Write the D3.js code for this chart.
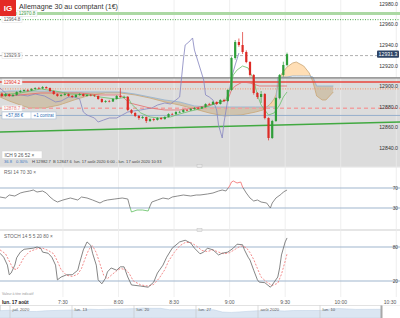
<!DOCTYPE html>
<html>
<head>
<meta charset="utf-8">
<title>Allemagne 30 au comptant</title>
<script src="https://cdn.jsdelivr.net/npm/d3@7/dist/d3.min.js"></script>
<style>
  body { margin: 0; background: #fff; }
  svg { display: block; font-family: "Liberation Sans", Arial, sans-serif; }
</style>
</head>
<body>
<div id="chart"></div>
<script>
/**
 * DATA
 * */
const candleStart = "6:56", candleStep = 2; // minutes per candle
// [open, high, low, close]
const candles = [
  [12893.0,12894.0,12889.5,12890.7],[12890.7,12893.5,12890.0,12892.6],[12892.6,12893.0,12889.8,12890.7],
  [12890.7,12892.5,12889.9,12891.7],[12891.7,12895.2,12891.0,12894.6],[12894.6,12896.5,12893.8,12895.5],
  [12895.5,12897.2,12894.9,12896.5],[12896.5,12897.4,12895.0,12896.0],[12896.0,12898.3,12895.6,12897.5],
  [12897.5,12899.2,12896.8,12898.4],[12898.4,12899.5,12897.2,12898.0],[12898.0,12900.3,12897.5,12899.4],
  [12899.4,12900.0,12897.6,12898.4],[12898.4,12898.9,12894.8,12895.5],[12895.5,12896.0,12891.8,12892.6],
  [12892.6,12893.2,12889.9,12890.7],[12890.7,12892.6,12890.1,12891.7],[12891.7,12893.8,12891.0,12892.6],
  [12892.6,12893.1,12890.0,12890.7],[12890.7,12891.5,12888.9,12889.7],[12889.7,12892.4,12889.2,12891.7],
  [12891.7,12893.5,12891.0,12892.6],[12892.6,12893.0,12890.0,12890.7],[12890.7,12892.5,12890.2,12891.7],
  [12891.7,12892.6,12890.4,12891.2],[12891.2,12892.0,12889.8,12890.7],[12890.7,12891.2,12887.0,12887.8],
  [12887.8,12888.3,12884.0,12884.9],[12884.9,12886.6,12884.1,12885.8],[12885.8,12886.9,12884.5,12885.3],
  [12885.3,12888.5,12884.9,12887.8],[12887.8,12891.5,12887.2,12890.7],[12890.7,12898.5,12889.0,12889.7],
  [12889.7,12891.0,12888.6,12889.9],[12889.9,12890.5,12876.0,12877.1],[12877.1,12878.0,12873.0,12874.2],
  [12874.2,12875.0,12870.2,12871.3],[12871.3,12872.2,12867.5,12869.3],[12869.3,12871.4,12868.5,12870.3],
  [12870.3,12870.8,12864.5,12866.4],[12866.4,12869.0,12865.5,12868.3],[12868.3,12869.2,12866.2,12867.4],
  [12867.4,12870.0,12866.8,12869.3],[12869.3,12870.2,12867.5,12868.3],[12868.3,12871.0,12867.6,12870.3],
  [12870.3,12873.9,12869.8,12873.2],[12873.2,12874.3,12872.0,12873.0],[12873.0,12875.9,12872.4,12875.1],
  [12875.1,12876.2,12874.1,12875.2],[12875.2,12877.8,12874.5,12877.1],[12877.1,12878.2,12876.0,12876.8],
  [12876.8,12878.9,12876.2,12878.1],[12878.1,12879.8,12877.4,12879.0],[12879.0,12880.0,12877.8,12878.6],
  [12878.6,12880.8,12878.0,12880.0],[12880.0,12883.6,12879.4,12882.9],[12882.9,12884.0,12881.6,12882.5],
  [12882.5,12885.8,12882.0,12884.9],[12884.9,12885.4,12882.0,12882.9],[12882.9,12887.6,12882.4,12886.8],
  [12886.8,12888.0,12884.8,12885.8],[12885.8,12897.3,12885.2,12896.5],[12896.5,12929.0,12895.8,12927.6],
  [12927.6,12945.0,12926.0,12943.1],[12943.1,12946.5,12938.5,12940.2],[12940.2,12952.8,12931.5,12933.4],
  [12933.4,12935.0,12922.5,12923.7],[12923.7,12924.5,12909.5,12911.1],[12911.1,12912.0,12892.0,12893.6],
  [12893.6,12894.5,12887.8,12889.7],[12889.7,12895.5,12884.0,12892.6],[12892.6,12893.5,12868.0,12869.3],
  [12869.3,12870.0,12847.6,12849.9],[12849.9,12867.5,12849.0,12866.4],[12866.4,12889.5,12865.5,12888.7],
  [12888.7,12912.0,12887.5,12911.1],[12911.1,12924.0,12909.5,12920.8],[12920.8,12932.8,12919.5,12931.3]
];

// Ichimoku cloud (spans already shifted forward 26)
const cloudTimes = ["6:56","7:01","7:07","7:12","7:20","7:28","7:36","7:45","7:53","8:01","8:09","8:17",
  "8:25","8:33","8:41","8:49","8:57","9:06","9:14","9:18","9:22","9:24","9:25","9:26","9:28","9:31",
  "9:34","9:36","9:40","9:43","9:45","9:47","9:50","9:52","9:56"];
const spanA = [12889.7,12885.8,12881.9,12879.0,12879.0,12881.9,12886.8,12891.7,12893.6,12893.6,12891.7,12888.7,
  12884.9,12881.9,12878.1,12874.2,12871.3,12872.2,12875.1,12877.1,12882.9,12887.8,12891.7,12900.4,12912.0,12918.8,
  12922.7,12923.7,12919.8,12913.0,12904.3,12890.7,12886.8,12886.8,12894.6];
const spanB = [12894.6,12895.5,12895.5,12895.5,12895.5,12894.6,12894.6,12894.6,12894.6,12894.6,12892.6,12889.7,
  12886.8,12884.9,12881.0,12880.0,12880.0,12880.0,12880.0,12880.0,12880.0,12880.0,12880.0,12909.1,12909.1,12909.1,
  12910.1,12910.1,12910.1,12910.1,12909.1,12900.4,12900.4,12900.4,12900.4];

const tenkan = [["6:56",12891.7],["7:07",12893.6],["7:18",12897.5],["7:26",12895.5],["7:34",12892.6],["7:45",12891.7],
  ["7:50",12889.7],["7:58",12887.8],["8:05",12889.7],["8:07",12882.9],["8:12",12874.2],["8:17",12870.3],["8:22",12869.3],
  ["8:28",12870.3],["8:33",12873.2],["8:39",12876.1],["8:44",12878.1],["8:49",12881.0],["8:55",12884.9],["8:58",12886.8],
  ["9:00",12896.5],["9:02",12911.1],["9:04",12915.9],["9:07",12919.8],["9:10",12917.9],["9:13",12906.2],["9:15",12891.7],
  ["9:17",12881.9],["9:21",12872.2],["9:24",12874.2],["9:27",12881.9],["9:29",12889.7],["9:31",12894.6]];
const kijun = [["6:56",12890.7],["7:07",12891.7],["7:18",12893.6],["7:39",12893.6],["7:50",12891.7],["8:01",12891.7],
  ["8:06",12883.9],["8:17",12879.0],["8:25",12877.1],["8:33",12877.1],["8:41",12879.0],["8:49",12881.9],["8:55",12884.9],
  ["8:59",12886.8],["9:01",12896.5],["9:03",12900.4],["9:07",12904.3],["9:11",12903.3],["9:16",12900.4],["9:22",12900.4],
  ["9:31",12900.4]];
const chikou = [["6:56",12898.4],["6:59",12893.6],["7:02",12890.7],["7:07",12891.7],["7:11",12890.7],["7:15",12892.6],
  ["7:20",12890.7],["7:23",12887.8],["7:26",12884.9],["7:29",12885.8],["7:33",12889.7],["7:36",12889.7],["7:39",12887.8],
  ["7:41",12875.1],["7:43",12872.2],["7:47",12869.3],["7:49",12865.4],["7:52",12867.4],["7:55",12869.3],["7:59",12869.3],
  ["8:02",12872.2],["8:05",12875.1],["8:08",12876.1],["8:12",12877.1],["8:15",12878.1],["8:18",12879.0],["8:21",12881.9],
  ["8:25",12883.9],["8:28",12882.9],["8:31",12886.8],["8:33",12889.7],["8:35",12925.6],["8:36",12940.2],["8:38",12943.1],
  ["8:40",12947.0],["8:41",12935.3],["8:43",12923.7],["8:46",12906.2],["8:47",12891.7],["8:49",12889.7],["8:51",12886.8],
  ["8:53",12877.1],["8:54",12862.5],["8:56",12849.9],["8:57",12865.4],["8:59",12886.8],["9:01",12908.2],["9:03",12920.8],
  ["9:05",12932.4]];

const rsi = [["6:56",52],["6:59",50],["7:01",56],["7:04",54],["7:07",60],["7:09",62],["7:12",64],["7:14",66],["7:16",62],
  ["7:19",64],["7:21",60],["7:23",52],["7:25",46],["7:27",42],["7:30",46],["7:34",50],["7:38",46],["7:40",52],["7:43",50],
  ["7:46",46],["7:50",40],["7:52",44],["7:54",46],["7:58",48],["8:02",50],["8:05",48],["8:06",34],["8:07",22],["8:10",26],
  ["8:13",26],["8:16",24],["8:17",34],["8:18",42],["8:21",46],["8:24",50],["8:27",48],["8:29",52],["8:32",54],["8:35",56],
  ["8:39",54],["8:42",56],["8:44",56],["8:48",58],["8:51",60],["8:54",64],["8:56",66],["8:58",64],["9:00",74],["9:01",82],
  ["9:02",84],["9:04",80],["9:06",82],["9:07",72],["9:09",60],["9:11",50],["9:13",44],["9:15",46],["9:17",42],["9:20",40],
  ["9:22",30],["9:23",40],["9:25",50],["9:28",58],["9:29",62],["9:31",66]];

const stochK = [["6:56",69],["6:58",62],["7:00",48],["7:01",31],["7:02",34],["7:04",48],["7:05",61],["7:07",71],["7:09",76],
  ["7:14",78],["7:16",80],["7:18",78],["7:19",71],["7:22",69],["7:24",62],["7:26",48],["7:27",22],["7:29",27],["7:32",31],
  ["7:35",31],["7:38",39],["7:39",52],["7:41",75],["7:43",89],["7:45",83],["7:46",69],["7:48",48],["7:49",22],["7:51",15],
  ["7:53",25],["7:54",36],["7:56",43],["7:59",39],["8:01",45],["8:03",45],["8:05",27],["8:07",13],["8:12",11],["8:16",9],
  ["8:19",18],["8:21",34],["8:24",48],["8:26",62],["8:29",78],["8:33",89],["8:36",92],["8:39",87],["8:41",78],["8:44",68],
  ["8:46",71],["8:48",78],["8:51",75],["8:54",66],["8:56",69],["8:59",71],["9:02",78],["9:04",85],["9:07",84],["9:08",75],
  ["9:10",62],["9:11",57],["9:13",39],["9:15",22],["9:16",18],["9:19",17],["9:22",9],["9:23",13],["9:26",27],["9:27",43],
  ["9:28",66],["9:30",89],["9:31",96]];
const stochD = [["6:56",75],["6:59",68],["7:01",55],["7:03",42],["7:05",40],["7:07",50],["7:09",62],["7:12",72],["7:16",77],
  ["7:19",78],["7:22",74],["7:25",68],["7:27",55],["7:29",40],["7:32",30],["7:35",28],["7:38",32],["7:40",42],["7:42",60],
  ["7:44",76],["7:46",82],["7:48",70],["7:50",50],["7:52",30],["7:54",24],["7:56",30],["7:59",38],["8:01",42],["8:04",40],
  ["8:06",32],["8:08",20],["8:12",13],["8:16",11],["8:19",14],["8:22",25],["8:25",40],["8:27",55],["8:30",70],["8:33",82],
  ["8:36",88],["8:39",88],["8:42",82],["8:45",74],["8:48",72],["8:51",75],["8:54",71],["8:57",68],["9:00",70],["9:03",76],
  ["9:06",82],["9:09",79],["9:11",70],["9:13",58],["9:15",42],["9:17",27],["9:20",18],["9:23",12],["9:26",16],["9:28",32],
  ["9:30",55],["9:31",68]];

const priceTicks = [12840, 12860, 12880, 12900, 12920, 12940, 12960, 12980];
const timeTicks = ["7:30", "8:00", "8:30", "9:00", "9:30", "10:00", "10:30"];
const rsiLevels = [30, 70];
const stochLevels = [20, 80];

// horizontal levels drawn on the price panel
const levelKeys = ["band", "dotGreen", "alert", "zoneTop", "stop", "order", "limit", "position"];
const levelValues = [12970.8, 12964.8, 12929.9, 12908.2, 12904.2, 12897.5, 12878.7, 12871.8];
const lastPrice = 12931.3;
const trendTimes = ["6:56", "10:32"], trendValues = [12855.7, 12865.4];

// navigator (daily)
const navDates = ["2020-07-02","2020-07-03","2020-07-06","2020-07-07","2020-07-08","2020-07-09","2020-07-10",
  "2020-07-13","2020-07-14","2020-07-15","2020-07-16","2020-07-17","2020-07-20","2020-07-21","2020-07-22","2020-07-23",
  "2020-07-24","2020-07-27","2020-07-28","2020-07-29","2020-07-30","2020-07-31","2020-08-03","2020-08-04","2020-08-05",
  "2020-08-06","2020-08-07","2020-08-10","2020-08-11","2020-08-12","2020-08-13","2020-08-14","2020-08-17"];
const navValues = [12608,12528,12733,12617,12495,12489,12633,12800,12697,12931,12875,12920,13047,13171,13105,13104,
  12838,12839,12836,12823,12379,12313,12647,12601,12661,12592,12675,12688,12947,13059,12994,12901,12920];
const navTicks = ["2020-07-06","2020-07-13","2020-07-20","2020-07-27","2020-08-03","2020-08-10"];
const navLabels = ["juil. 2020","lun. 13","lun. 20","lun. 27","août 2020","lun. 10"];

/**
 * SCALES
 * */
const W = 400, H = 318;
const t = d3.timeParse("%H:%M");
const day = d3.timeParse("%Y-%m-%d");
const x = d3.scaleTime().domain([t("6:56"), t("10:32")]).range([0, W]);
const y = d3.scaleLinear().domain([12822.7, 12983.9]).range([166, 0]);
const yRsi = d3.scaleLinear().domain([0, 100]).range([223, 173]);
const ySto = d3.scaleLinear().domain([0, 100]).range([292.3, 235.7]);
const xNav = d3.scaleTime().domain([day("2020-07-06"), day("2020-08-17")]).range([10, 382]);
const yNav = d3.scaleLinear().domain([12300, 13170]).range([312.5, 308]);

const lv = {};
levelKeys.forEach((k, i) => lv[k] = levelValues[i]);

const svg = d3.select("#chart").append("svg").attr("width", W).attr("height", H);
const defs = svg.append("defs");
defs.append("clipPath").attr("id", "mainClip").append("rect").attr("width", W).attr("height", 166);

// backgrounds
svg.append("rect").attr("width", W).attr("height", H).attr("fill", "#fff");
svg.append("rect").attr("y", y(lv.zoneTop)).attr("width", W).attr("height", 166 - y(lv.zoneTop)).attr("fill", "#dcdcdc");
svg.append("rect").attr("y", 166).attr("width", W).attr("height", 1.5).attr("fill", "#e2e2e2");
svg.append("rect").attr("y", 229).attr("width", W).attr("height", 2).attr("fill", "#e6e6e6");

// vertical grid
svg.append("g").selectAll("line").data(timeTicks).join("line")
  .attr("x1", d => x(t(d))).attr("x2", d => x(t(d)))
  .attr("y1", 0).attr("y2", 297)
  .attr("stroke", "#ebebeb").attr("stroke-width", 0.8);

/**
 * PRICE PANEL
 * */
const main = svg.append("g").attr("clip-path", "url(#mainClip)");

// cloud
const cloud = cloudTimes.map((s, i) => ({ t: t(s), a: spanA[i], b: spanB[i] }));
defs.append("clipPath").attr("id", "aboveB").append("path")
  .attr("d", d3.area().x(d => x(d.t)).y0(0).y1(d => y(d.b))(cloud));
defs.append("clipPath").attr("id", "belowB").append("path")
  .attr("d", d3.area().x(d => x(d.t)).y0(166).y1(d => y(d.b))(cloud));
const between = d3.area().x(d => x(d.t)).y0(d => y(d.b)).y1(d => y(d.a));
main.append("path").attr("d", between(cloud)).attr("fill", "#ffd39c").attr("fill-opacity", 0.75)
  .attr("clip-path", "url(#aboveB)");
main.append("path").attr("d", between(cloud)).attr("fill", "#c2aa80").attr("fill-opacity", 0.5)
  .attr("clip-path", "url(#belowB)");
main.append("path").attr("d", d3.line().x(d => x(d.t)).y(d => y(d.a))(cloud))
  .attr("fill", "none").attr("stroke", "#c9a676").attr("stroke-width", 0.8);
main.append("path").attr("d", d3.line().x(d => x(d.t)).y(d => y(d.b))(cloud))
  .attr("fill", "none").attr("stroke", "#8fb1d3").attr("stroke-width", 0.8);

// horizontal levels
const levelStyle = {
  band:     { stroke: "#acd9a4", width: 3,   dash: null },
  dotGreen: { stroke: "#4aa64a", width: 1,   dash: "1,1.5" },
  alert:    { stroke: "#9a9a9a", width: 0.8, dash: "3,2" },
  zoneTop:  { stroke: "#7c7c7c", width: 1.3, dash: null },
  stop:     { stroke: "#e8453c", width: 1.4, dash: null },
  order:    { stroke: "#f2a07c", width: 1.2, dash: "1,1.5" },
  limit:    { stroke: "#f0a0a0", width: 1.5, dash: "4,3" },
  position: { stroke: "#8ea9ca", width: 0.9, dash: null }
};
main.append("g").selectAll("line").data(levelKeys).join("line")
  .attr("x1", 0).attr("x2", W)
  .attr("y1", k => y(lv[k])).attr("y2", k => y(lv[k]))
  .attr("stroke", k => levelStyle[k].stroke)
  .attr("stroke-width", k => levelStyle[k].width)
  .attr("stroke-dasharray", k => levelStyle[k].dash);

// trend line
main.append("path")
  .attr("d", d3.line().x(d => x(t(d[0]))).y(d => y(d[1]))(trendTimes.map((s, i) => [s, trendValues[i]])))
  .attr("stroke", "#41a941").attr("stroke-width", 1.5).attr("fill", "none");

// ichimoku lines
const pline = d3.line().x(d => x(t(d[0]))).y(d => y(d[1]));
main.append("path").attr("d", pline(chikou)).attr("fill", "none").attr("stroke", "#8a8ac2").attr("stroke-width", 0.85);
main.append("path").attr("d", pline(kijun)).attr("fill", "none").attr("stroke", "#e46a6a").attr("stroke-width", 0.8);
main.append("path").attr("d", pline(tenkan)).attr("fill", "none").attr("stroke", "#6bbf6b").attr("stroke-width", 0.8);

// candles
const up = "#2f9e3a", down = "#dd2b25";
const c0 = t(candleStart);
const cx = i => x(d3.timeMinute.offset(c0, i * candleStep + candleStep / 2));
const cg = main.append("g");
cg.selectAll("line").data(candles).join("line")
  .attr("x1", (d, i) => cx(i)).attr("x2", (d, i) => cx(i))
  .attr("y1", d => y(d[1])).attr("y2", d => y(d[2]))
  .attr("stroke", d => d[3] >= d[0] ? up : down).attr("stroke-width", 0.7);
cg.selectAll("rect").data(candles).join("rect")
  .attr("x", (d, i) => cx(i) - 1.1).attr("width", 2.2)
  .attr("y", d => y(Math.max(d[0], d[3])))
  .attr("height", d => Math.max(0.6, Math.abs(y(d[0]) - y(d[3]))))
  .attr("fill", d => d[3] >= d[0] ? up : down);

// left level labels
const fmt = d3.format(".1f");
const leftLabels = [
  { k: "band", color: "#4a9a4a", x: 17 }, { k: "dotGreen", color: "#666", x: 2 }, { k: "alert", color: "#666", x: 2 },
  { k: "stop", color: "#e0362e", x: 2 }, { k: "limit", color: "#e88080", x: 2 }
];
const ll = svg.append("g").selectAll("g").data(leftLabels).join("g")
  .attr("transform", d => `translate(${d.x},${y(lv[d.k])})`);
ll.append("rect").attr("x", 0).attr("y", -3).attr("width", 20).attr("height", 6)
  .attr("fill", "#fff").attr("fill-opacity", 0.9).attr("stroke", "#ddd").attr("stroke-width", 0.5);
ll.append("text").attr("x", 10).attr("y", 1.7).attr("text-anchor", "middle")
  .attr("font-size", 4.6).attr("fill", d => d.color).text(d => fmt(lv[d.k]));

// position box
const pos = svg.append("g").attr("transform", `translate(2,${y(lv.position)})`);
pos.append("rect").attr("x", 0).attr("y", -3.5).attr("width", 54).attr("height", 7)
  .attr("fill", "#fff").attr("stroke", "#a9bcd3").attr("stroke-width", 0.6);
pos.append("line").attr("x1", 29).attr("x2", 29).attr("y1", -3.5).attr("y2", 3.5).attr("stroke", "#a9bcd3").attr("stroke-width", 0.5);
pos.append("text").attr("x", 3.5).attr("y", 1.6).attr("font-size", 4.5).attr("fill", "#2f6db5").text("+57,88 €");
pos.append("text").attr("x", 31.5).attr("y", 1.6).attr("font-size", 4.5).attr("fill", "#2f6db5").text("+1 contrat");

// right price axis
svg.append("g").selectAll("text").data(priceTicks).join("text")
  .attr("x", 398).attr("y", d => y(d) + 1.8).attr("text-anchor", "end")
  .attr("font-size", 5.2).attr("fill", "#333").text(d => fmt(d));
svg.append("rect").attr("x", 377).attr("y", y(lastPrice) - 3.6).attr("width", 22).attr("height", 7.2)
  .attr("rx", 1).attr("fill", "#2e4466");
svg.append("text").attr("x", 388).attr("y", y(lastPrice) + 1.8).attr("text-anchor", "middle")
  .attr("font-size", 5.2).attr("fill", "#fff").text(fmt(lastPrice));

// title
svg.append("rect").attr("width", 16).attr("height", 16).attr("fill", "#e42a24");
svg.append("text").attr("x", 8).attr("y", 10.8).attr("text-anchor", "middle")
  .attr("font-size", 8).attr("font-weight", "bold").attr("fill", "#fff").text("IG");
svg.append("text").attr("x", 19).attr("y", 9).attr("font-size", 7.1).attr("fill", "#333")
  .text("Allemagne 30 au comptant (1€)");

// indicator header on price panel
svg.append("rect").attr("x", 2).attr("y", 151).attr("width", 40).attr("height", 7.5)
  .attr("fill", "#fff").attr("stroke", "#d4d4d4").attr("stroke-width", 0.5);
svg.append("text").attr("x", 4.5).attr("y", 156.6).attr("font-size", 4.8).attr("fill", "#555").text("ICH  9  26  52   ×");
const status = [
  { x: 4, s: "36.8", c: "#3a78c2" }, { x: 16, s: "0.30%", c: "#3a78c2" },
  { x: 32, s: "H 12982.7", c: "#444" }, { x: 53, s: "B 12847.6", c: "#444" },
  { x: 74, s: "lun. 17 août 2020 6:00 - lun. 17 août 2020 10:33", c: "#444" }
];
svg.append("g").selectAll("text").data(status).join("text")
  .attr("x", d => d.x).attr("y", 163.2).attr("font-size", 4.1).attr("fill", d => d.c).text(d => d.s);

// panel handles
svg.append("rect").attr("x", 197).attr("y", 164.5).attr("width", 5).attr("height", 3)
  .attr("fill", "#e8e8e8").attr("stroke", "#bbb").attr("stroke-width", 0.4);
svg.append("rect").attr("x", 197).attr("y", 228.5).attr("width", 5).attr("height", 3)
  .attr("fill", "#e8e8e8").attr("stroke", "#bbb").attr("stroke-width", 0.4);

/**
 * RSI PANEL
 * */
const rsiG = svg.append("g");
rsiG.selectAll("line").data(rsiLevels).join("line")
  .attr("x1", 0).attr("x2", W).attr("y1", d => yRsi(d)).attr("y2", d => yRsi(d))
  .attr("stroke", "#9fb5cd").attr("stroke-width", 1.2);
rsiG.selectAll("text.lvl").data(rsiLevels).join("text").attr("class", "lvl")
  .attr("x", 398).attr("y", d => yRsi(d) + 1.7).attr("text-anchor", "end")
  .attr("font-size", 4.8).attr("fill", "#444").text(d => d);
const rsiBands = [
  { id: "rsiHi", y0: 168, y1: yRsi(70), c: "#f06a6a" },
  { id: "rsiMid", y0: yRsi(70), y1: yRsi(30), c: "#6e6e6e" },
  { id: "rsiLo", y0: yRsi(30), y1: 229, c: "#5fbf5f" }
];
const rsiLine = d3.line().x(d => x(t(d[0]))).y(d => yRsi(d[1]));
rsiBands.forEach(b => {
  defs.append("clipPath").attr("id", b.id).append("rect")
    .attr("x", 0).attr("y", b.y0).attr("width", W).attr("height", b.y1 - b.y0);
  rsiG.append("path").attr("d", rsiLine(rsi)).attr("fill", "none")
    .attr("stroke", b.c).attr("stroke-width", 0.8).attr("clip-path", `url(#${b.id})`);
});
svg.append("text").attr("x", 4).attr("y", 174).attr("font-size", 4.8).attr("fill", "#666").text("RSI  14  70  30   ×");

/**
 * STOCHASTIC PANEL
 * */
const stoG = svg.append("g");
stoG.selectAll("line").data(stochLevels).join("line")
  .attr("x1", 0).attr("x2", W).attr("y1", d => ySto(d)).attr("y2", d => ySto(d))
  .attr("stroke", "#9fb5cd").attr("stroke-width", 1.2);
stoG.selectAll("text.lvl").data(stochLevels).join("text").attr("class", "lvl")
  .attr("x", 398).attr("y", d => ySto(d) + 1.7).attr("text-anchor", "end")
  .attr("font-size", 4.8).attr("fill", "#444").text(d => d);
const stoLine = d3.line().x(d => x(t(d[0]))).y(d => ySto(d[1]));
stoG.append("path").attr("d", stoLine(stochD)).attr("fill", "none")
  .attr("stroke", "#f07070").attr("stroke-width", 0.8).attr("stroke-dasharray", "2,1.5");
stoG.append("path").attr("d", stoLine(stochK)).attr("fill", "none")
  .attr("stroke", "#666").attr("stroke-width", 0.8);
svg.append("text").attr("x", 4).attr("y", 238).attr("font-size", 4.8).attr("fill", "#666").text("STOCH  14  5  5  20  80   ×");

/**
 * TIME AXIS
 * */
svg.append("text").attr("x", 2).attr("y", 294.5).attr("font-size", 3.4).attr("fill", "#999").text("Valeur à titre indicatif");
svg.append("g").selectAll("text").data(timeTicks).join("text")
  .attr("x", d => Math.min(x(t(d)), 399.5)).attr("y", 303.5)
  .attr("text-anchor", d => x(t(d)) > 390 ? "end" : "middle")
  .attr("font-size", 5).attr("fill", "#555").text(d => d);
svg.append("text").attr("x", 2).attr("y", 303.5).attr("font-size", 4.8).attr("font-weight", "bold")
  .attr("fill", "#222").text("lun. 17 août");

/**
 * NAVIGATOR
 * */
const nav = svg.append("g");
nav.append("rect").attr("x", 0.5).attr("y", 305.5).attr("width", W - 1).attr("height", 13)
  .attr("fill", "#fff").attr("stroke", "#cfcfcf").attr("stroke-width", 0.6);
const navPts = navDates.map((s, i) => [day(s), navValues[i]]);
nav.append("path")
  .attr("d", d3.area().x(d => xNav(d[0])).y0(318).y1(d => yNav(d[1]))(navPts))
  .attr("fill", "#dbe6f2").attr("stroke", "#b8cce2").attr("stroke-width", 0.5);
nav.selectAll("line").data(navTicks).join("line")
  .attr("x1", d => xNav(day(d))).attr("x2", d => xNav(day(d)))
  .attr("y1", 305.5).attr("y2", 318).attr("stroke", "#c4c4c4").attr("stroke-width", 0.6);
nav.selectAll("text").data(navTicks).join("text")
  .attr("x", d => xNav(day(d)) + 2.5).attr("y", 311).attr("font-size", 4.2).attr("fill", "#555")
  .text((d, i) => navLabels[i]);
nav.append("rect").attr("x", 382).attr("y", 305.5).attr("width", 18).attr("height", 12.5).attr("fill", "#fff");
nav.append("rect").attr("x", 380.5).attr("y", 305.5).attr("width", 2).attr("height", 12.5).attr("fill", "#a8a8a8");
</script>
</body>
</html>
